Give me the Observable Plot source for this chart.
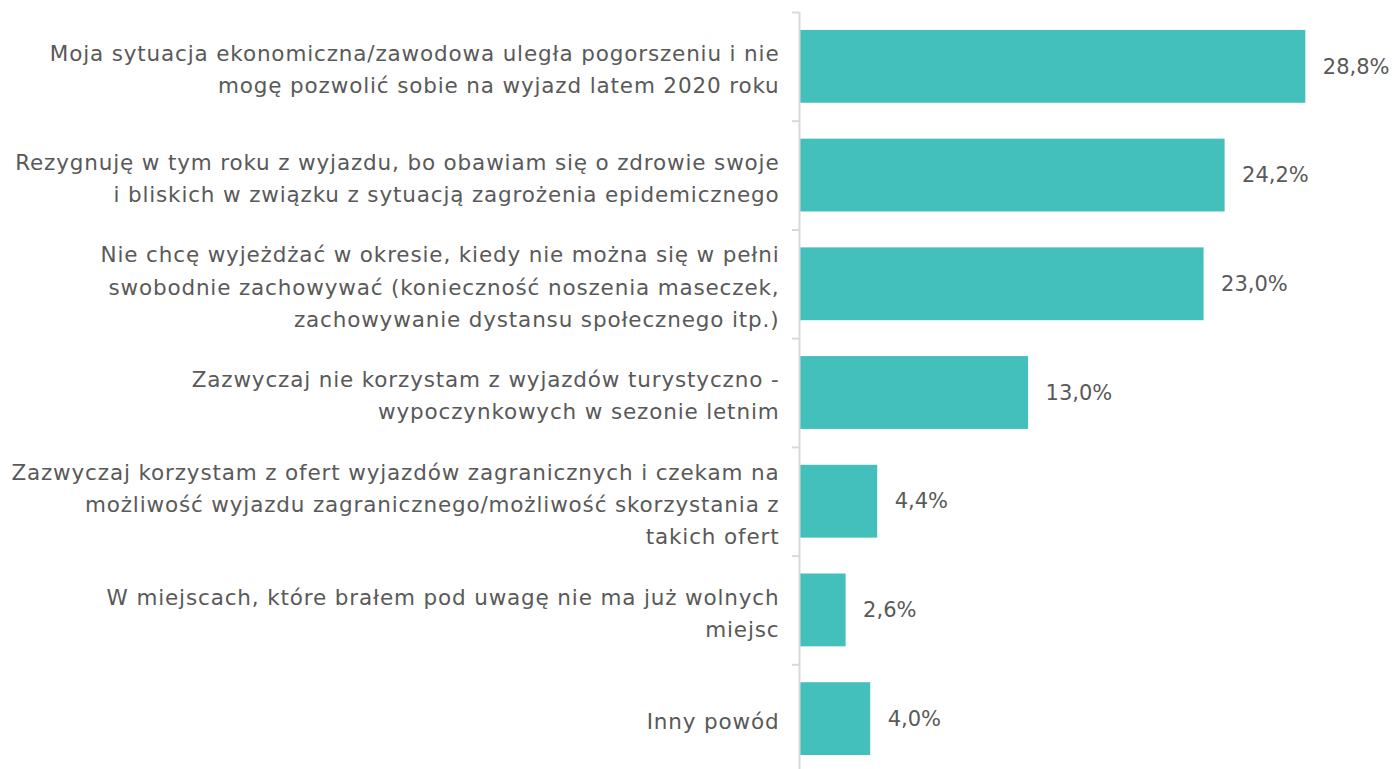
<!DOCTYPE html>
<html>
<head>
<meta charset="utf-8">
<script src="https://cdn.jsdelivr.net/npm/d3@7"></script>
<script src="https://cdn.jsdelivr.net/npm/@observablehq/plot@0.6"></script>
<style>
  html, body { margin: 0; padding: 0; background: #fff; }
  #chart svg { display: block; }
</style>
</head>
<body>
<div id="chart"></div>
<script>
const categories = [
  "Moja sytuacja ekonomiczna/zawodowa uległa pogorszeniu i nie\nmogę pozwolić sobie na wyjazd latem 2020 roku",
  "Rezygnuję w tym roku z wyjazdu, bo obawiam się o zdrowie swoje\ni bliskich w związku z sytuacją zagrożenia epidemicznego",
  "Nie chcę wyjeżdżać w okresie, kiedy nie można się w pełni\nswobodnie zachowywać (konieczność noszenia maseczek,\nzachowywanie dystansu społecznego itp.)",
  "Zazwyczaj nie korzystam z wyjazdów turystyczno -\nwypoczynkowych w sezonie letnim",
  "Zazwyczaj korzystam z ofert wyjazdów zagranicznych i czekam na\nmożliwość wyjazdu zagranicznego/możliwość skorzystania z\ntakich ofert",
  "W miejscach, które brałem pod uwagę nie ma już wolnych\nmiejsc",
  "Inny powód"
];
const values = [28.8, 24.2, 23.0, 13.0, 4.4, 2.6, 4.0];

const data = categories.map((c, i) => ({category: c, value: values[i]}));
const fmt = v => v.toFixed(1).replace(".", ",") + "%";

const W = 1392, H = 769, mTop = 12, mLeft = 800;
const yTop = 12, yBottom = 773;
const step = (yBottom - yTop) / categories.length;
const font = "'DejaVu Sans', sans-serif";

const chart = Plot.plot({
  width: W,
  height: H,
  marginLeft: mLeft,
  marginRight: 13,
  marginTop: mTop,
  marginBottom: 0,
  style: {fontFamily: font, background: "#fff"},
  x: {domain: [0, 33], axis: null},
  y: {domain: categories, range: [yTop, yBottom], round: false, paddingInner: 0.33, paddingOuter: 0.165, axis: null},
  marks: [
    Plot.barX(data, {y: "category", x: "value", fill: "#43BFBC"}),
    Plot.ruleX([0], {stroke: "#d9d9d9", strokeWidth: 2, dx: -1}),
    Plot.ruleY(categories, {y: d => d, x1: 0, x2: 0, insetLeft: -8, insetRight: 1, dy: -step / 2, stroke: "#d9d9d9", strokeWidth: 2}),
    Plot.text(data, {y: "category", x: 0, text: "category", textAnchor: "end", dx: -21, fontSize: 21.5, lineHeight: 1.5, fill: "#595959"}),
    Plot.text(data, {y: "category", x: "value", text: d => fmt(d.value), textAnchor: "start", dx: 17, fontSize: 21, fill: "#595959"})
  ]
});
const textGroups = chart.querySelectorAll('g[aria-label="text"]');
if (textGroups[0]) textGroups[0].style.letterSpacing = "0.85px";
document.getElementById("chart").appendChild(chart);
</script>
</body>
</html>
